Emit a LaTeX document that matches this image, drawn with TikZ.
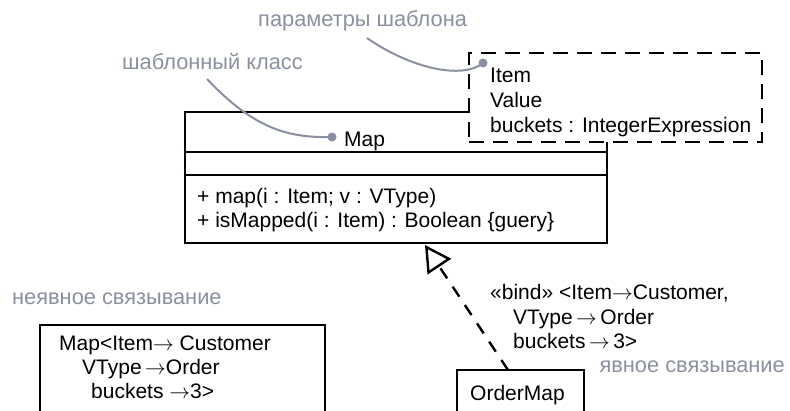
\documentclass[tikz,border=0pt]{standalone}
\usepackage{fontspec}
\setmainfont{Liberation Sans}
\usetikzlibrary{arrows.meta,positioning,calc}
\definecolor{cnote}{RGB}{138,144,160}
\newcommand{\bindto}{\ensuremath{\rightarrow}}
\tikzset{
  umlline/.style={line width=2.4pt},
  umlbox/.style={draw, umlline, inner sep=0pt},
  txt/.style={anchor=base west, inner sep=0pt},
  notetext/.style={txt, text=cnote, font=\fontsize{21.8}{25}\selectfont},
  notelink/.style={draw=cnote, line width=2pt},
  notedot/.style={circle, fill=cnote, inner sep=0pt, minimum size=9pt},
}

\begin{document}
\begin{tikzpicture}[x=1pt, y=-1pt, font=\fontsize{21}{25}\selectfont]
    \useasboundingbox (0,0) rectangle (790,410);
    \clip (0,0) rectangle (790,410);

    % template class
    \node[umlbox, minimum width=422pt, minimum height=131pt] (mapbox) at (396,177.5) {};
    \coordinate (attrtop) at (185,152);
    \coordinate (opstop) at (185,175);
    \draw[umlline] (mapbox.west |- attrtop) -- (mapbox.east |- attrtop);
    \draw[umlline] (mapbox.west |- opstop) -- (mapbox.east |- opstop);
    \node[txt] (mapname) at (344,146) {Map};
    \node[txt] (op1) at (197,203) {+ map(i : Item; v : VType)};
    \node[txt] (op2) at (197,227) {+ isMapped(i : Item) : Boolean \{guery\}};

    % template parameters
    \node[umlbox, dash pattern=on 15pt off 9pt, fill=white,
          minimum width=293pt, minimum height=89pt] (parbox) at (615.5,97.5) {};
    \node[txt] (par1) at (490,82) {Item};
    \node[txt] (par2) at (490,107) {Value};
    \node[txt] (par3) at (490,132) {buckets : IntegerExpression};

    % notes
    \node[notetext] (parlbl) at (258,26) {параметры шаблона};
    \node[notetext] (clslbl) at (122,69) {шаблонный класс};
    \node[notedot] (pardot) at (483,63) {};
    \node[notedot] (mapdot) at (332,137) {};
    \coordinate (parfrom) at (367,38);
    \coordinate (clsfrom) at (207,79);
    \draw[notelink] (parfrom) .. controls (410,68) and (462,80) .. (pardot.center);
    \draw[notelink] (clsfrom) .. controls (255,130) and (290,138) .. (mapdot.center);

    % implicit binding
    \node[notetext] (implbl) at (12,304) {неявное связывание};
    \node[umlbox, minimum width=285pt, minimum height=120pt] (implbox) at (182.5,385) {};
    \node[txt] (impl1) at (59,350) {Map<Item\bindto\ Customer};
    \node[txt] (impl2) at (82,374) {VType\,\bindto Order};
    \node[txt] (impl3) at (91,398) {buckets \bindto3>};

    % explicit binding
    \node[umlbox, minimum width=127pt, minimum height=80pt] (ordermap) at (520.5,410) {};
    \node[txt] (ordername) at (470,400) {OrderMap};
    \coordinate (bindfrom) at (508,370);
    \coordinate (bindtip) at (425,245);
    \draw[umlline, dash pattern=on 12pt off 10pt,
          -{Triangle[open, length=26pt, width=28pt, fill=white]}] (bindfrom) -- (bindtip);
    \node[txt] (bind1) at (490,299) {«bind» <Item\bindto Customer,};
    \node[txt] (bind2) at (513,324) {VType\,\bindto\,Order};
    \node[txt] (bind3) at (513,348) {buckets\,\bindto\,3>};
    \node[notetext, anchor=base east] (explbl) at (785,372) {явное связывание};
\end{tikzpicture}
\end{document}
